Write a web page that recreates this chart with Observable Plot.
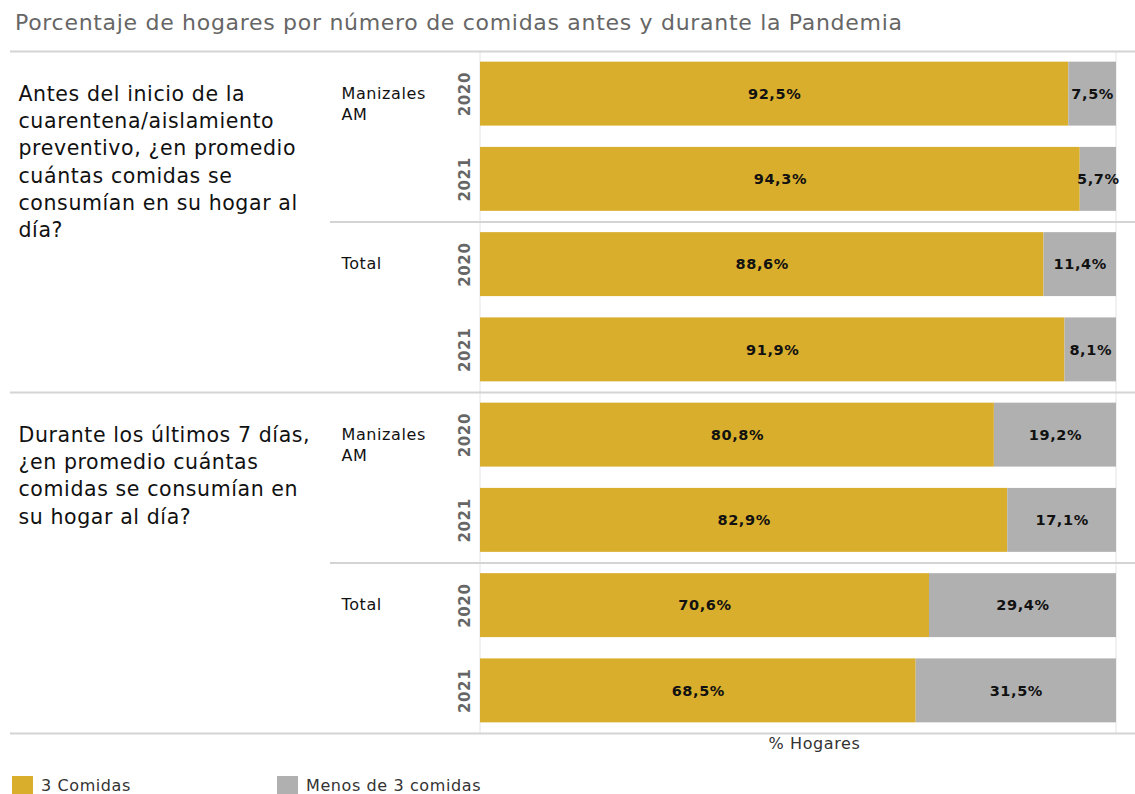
<!DOCTYPE html>
<html><head><meta charset="utf-8">
<script src="https://cdn.jsdelivr.net/npm/d3@7"></script>
<script src="https://cdn.jsdelivr.net/npm/@observablehq/plot@0.6"></script>
<style>
body{margin:0;background:#fff;font-family:"DejaVu Sans",sans-serif;width:1135px;height:794px;overflow:hidden;}
#title{height:45px;font-size:22px;letter-spacing:0.7px;color:#666;padding-left:15px;line-height:45px;white-space:nowrap;}
#chart svg{display:block;}
#legend{position:relative;height:29px;font-size:16px;letter-spacing:0.6px;color:#333;}
.item{position:absolute;top:11px;display:flex;align-items:flex-start;}
.sw{width:21px;height:18px;display:inline-block;margin-right:8px;}
.item span.t{line-height:19px;}
</style></head><body>
<div id="title">Porcentaje de hogares por número de comidas antes y durante la Pandemia</div>
<div id="chart"></div>
<div id="legend"></div>
<script>
const questions = [
  "Antes del inicio de la\ncuarentena/aislamiento\npreventivo, ¿en promedio\ncuántas comidas se\nconsumían en su hogar al\ndía?",
  "Durante los últimos 7 días,\n¿en promedio cuántas\ncomidas se consumían en\nsu hogar al día?"
];
const groups = ["Manizales\nAM", "Total"];
const years = ["2020", "2021"];
const categories = ["3 Comidas", "Menos de 3 comidas"];
const colors = ["#D9AE2C", "#B0B0B0"];
const tresComidas = [92.5, 94.3, 88.6, 91.9, 80.8, 82.9, 70.6, 68.5];
const menosDeTres = [7.5, 5.7, 11.4, 8.1, 19.2, 17.1, 29.4, 31.5];
const axisLabel = "% Hogares";

const rows = [];
questions.forEach((q, qi) => groups.forEach((g, gi) => years.forEach((yr, yi) => {
  const i = qi * 4 + gi * 2 + yi;
  rows.push({i, qi, gi, yi, q, g, yr, a: tresComidas[i], b: menosDeTres[i]});
})));
const segs = rows.flatMap(r => [
  {i: r.i, cat: categories[0], x1: 0, x2: r.a, v: r.a},
  {i: r.i, cat: categories[1], x1: r.a, x2: r.a + r.b, v: r.b}
]);
const fmt = v => v.toFixed(1).replace(".", ",") + "%";
const half = 0.375;

const chart = Plot.plot({
  width: 1135,
  height: 720,
  marginLeft: 0, marginRight: 0, marginTop: 0, marginBottom: 0,
  style: {fontFamily: "'DejaVu Sans', sans-serif", background: "#fff", letterSpacing: "0.6px"},
  x: {domain: [0, 100], range: [480, 1116], axis: null},
  y: {domain: [-0.5, 7.5], range: [6, 688], axis: null},
  color: {domain: categories, range: colors},
  marks: [
    Plot.ruleX([0, 100], {x: d => d, y1: -0.5, y2: 7.5, stroke: "#e4e4e4", strokeWidth: 1, dx: -0.5}),
    Plot.rect(segs, {x1: "x1", x2: "x2", y1: d => d.i - half, y2: d => d.i + half, fill: "cat"}),
    Plot.text(segs, {x: d => (d.x1 + d.x2) / 2, y: "i", text: d => fmt(d.v), fontWeight: 700, fontSize: 14.5, fill: "#111"}),
    Plot.ruleY([-0.5, 3.5, 7.5], {stroke: "#d4d4d4", strokeWidth: 2, insetLeft: 10}),
    Plot.ruleY([1.5, 5.5], {stroke: "#d4d4d4", strokeWidth: 2, insetLeft: 330}),
    Plot.text(rows, {y: "i", text: "yr", frameAnchor: "left", dx: 465, textAnchor: "middle", rotate: -90, fill: "#666", fontWeight: 700, fontSize: 15}),
    Plot.text(rows.filter(r => r.yi === 0), {y: "i", text: "g", frameAnchor: "left", dx: 341, textAnchor: "start", lineAnchor: "top", dy: -10, fontSize: 16, lineHeight: 1.3, fill: "#111"}),
    Plot.text(rows.filter(r => r.gi === 0 && r.yi === 0), {y: "i", text: "q", frameAnchor: "left", dx: 18, textAnchor: "start", lineAnchor: "top", dy: -12, fontSize: 20.5, lineHeight: 1.32, fill: "#111"}),
    Plot.text([axisLabel], {text: d => d, frameAnchor: "bottom", dx: 814 - 567.5, dy: -17, fontSize: 16, fill: "#333"})
  ]
});
document.getElementById("chart").appendChild(chart);

const legend = document.getElementById("legend");
const lx = [12, 277];
categories.forEach((c, k) => {
  const it = document.createElement("div");
  it.className = "item";
  it.style.left = lx[k] + "px";
  it.innerHTML = `<span class="sw" style="background:${colors[k]}"></span><span class="t">${c}</span>`;
  legend.appendChild(it);
});
</script>
</body></html>
